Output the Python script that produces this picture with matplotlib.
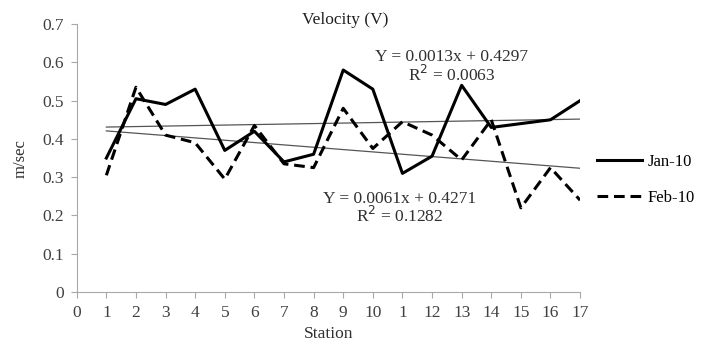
import matplotlib
matplotlib.use("Agg")
import matplotlib.pyplot as plt
import numpy as np

plt.rcParams['font.family'] = ['Liberation Serif', 'DejaVu Serif']

stations = list(range(1, 18))
tick_labels = ['0', '1', '2', '3', '4', '5', '6', '7', '8', '9', '10',
               '1', '12', '13', '14', '15', '16', '17']
jan10 = [0.35, 0.505, 0.49, 0.53, 0.37, 0.42, 0.34, 0.36, 0.58, 0.53,
         0.31, 0.355, 0.54, 0.43, 0.44, 0.45, 0.50]
feb10 = [0.305, 0.535, 0.41, 0.39, 0.295, 0.435, 0.335, 0.325, 0.48, 0.375,
         0.445, 0.41, 0.345, 0.45, 0.22, 0.325, 0.24]

# trendline coefficients (Feb line is drawn falling)
jan_slope, jan_icpt = 0.0013, 0.4297
feb_slope, feb_icpt = -0.0061, 0.4271

fig = plt.figure(figsize=(7.04, 3.44), dpi=100)
ax = fig.add_axes([0.109, 0.151, 0.715, 0.779])

x = np.array(stations)
ax.plot(x, jan_slope * x + jan_icpt, color='#555555', lw=0.9)
ax.plot(x, feb_slope * x + feb_icpt, color='#555555', lw=0.9)
ax.plot(stations, jan10, color='black', lw=2.2, label='Jan-10')
ax.plot(stations, feb10, color='black', lw=2.2, dashes=(3.5, 1.9), label='Feb-10')

ax.set_xlim(0, 17)
ax.set_ylim(0, 0.7)
ax.set_xticks(range(0, 18))
ax.set_xticklabels(tick_labels)
ax.set_yticks(np.arange(0, 0.71, 0.1))
ax.set_yticklabels(['0', '0.1', '0.2', '0.3', '0.4', '0.5', '0.6', '0.7'])

for s in ['top', 'right']:
    ax.spines[s].set_visible(False)
for s in ['left', 'bottom']:
    ax.spines[s].set_color('#a8a8a8')
ax.tick_params(colors='#a8a8a8', labelcolor='#404040', labelsize=12.5, length=4)
ax.tick_params(axis='x', pad=5)
ax.tick_params(axis='y', pad=5)

ax.set_xlabel('Station', fontsize=12.5, color='#303030', labelpad=4)
ax.set_ylabel('m/sec', fontsize=12, color='#303030', labelpad=10)
fig.text(0.49, 0.93, 'Velocity (V)', ha='center', fontsize=12.5, color='#202020')

txt = dict(ha='center', va='center', fontsize=12.5, color='#303030')
ax.text(12.67, 0.614, 'Y = 0.0013x + 0.4297', **txt)
ax.text(12.67, 0.567, 'R$^{2}$ = 0.0063', **txt)
ax.text(10.9, 0.243, 'Y = 0.0061x + 0.4271', **txt)
ax.text(10.9, 0.200, 'R$^{2}$ = 0.1282', **txt)

ax.legend(loc='center left', bbox_to_anchor=(1.034, 0.418), frameon=False,
          borderaxespad=0, borderpad=0, fontsize=12, handlelength=2.7,
          labelspacing=1.2, handletextpad=0.3)

fig.savefig('out.png', dpi=100)
